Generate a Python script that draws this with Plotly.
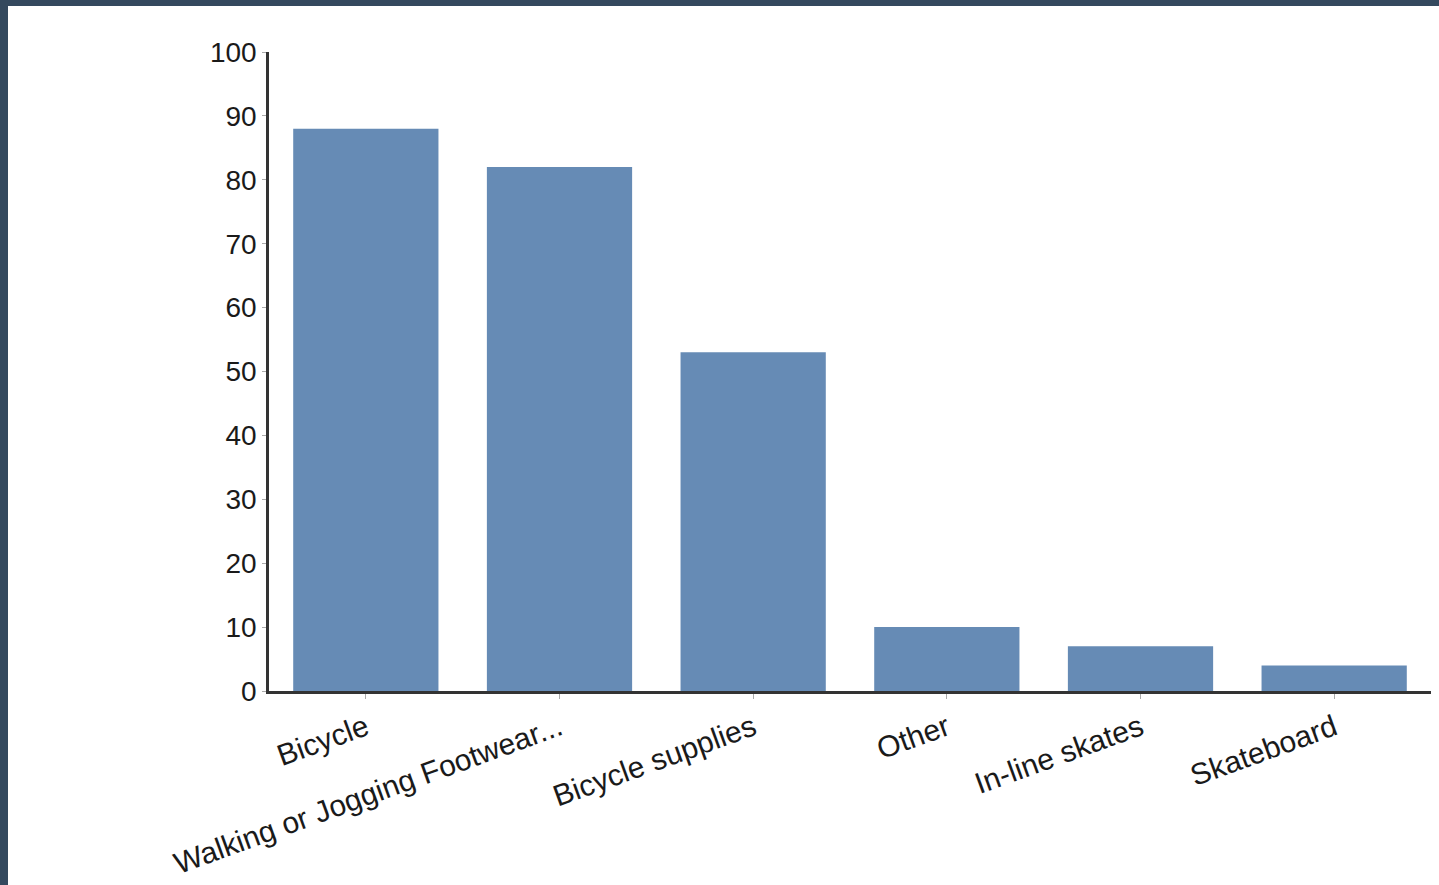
import plotly.graph_objects as go

categories = ["Bicycle", "Walking or Jogging Footwear...", "Bicycle supplies", "Other", "In-line skates", "Skateboard"]
values = [88, 82, 53, 10, 7, 4]
y_ticks = [0, 10, 20, 30, 40, 50, 60, 70, 80, 90, 100]

W, H = 1439, 885
ml, mr, mt, mb = 269, 8, 52, 194
pw, ph = W - ml - mr, H - mt - mb

fig = go.Figure(go.Bar(x=categories, y=values, marker=dict(color="#668bb5", line=dict(width=0)),
                       hoverinfo="x+y"))

# dark frame around white canvas
fig.add_shape(type="rect", xref="paper", yref="paper", layer="below",
              x0=-(ml - 8) / pw, x1=1 + (mr + 5) / pw,
              y0=-(mb + 5) / ph, y1=1 + (mt - 6) / ph,
              fillcolor="white", line=dict(width=0))

fig.update_layout(
    width=W, height=H,
    margin=dict(l=ml, r=mr, t=mt, b=mb, pad=0),
    paper_bgcolor="#34495e", plot_bgcolor="rgba(0,0,0,0)",
    font=dict(family="Liberation Sans, Arial, sans-serif", size=28, color="#1a1a1a"),
    bargap=0.25, showlegend=False,
    xaxis=dict(showline=True, linecolor="#333333", linewidth=2.5, ticks="outside", ticklen=5,
               tickcolor="#aaaaaa", tickangle=-20, showgrid=False, zeroline=False,
               tickfont=dict(size=30), automargin=False),
    yaxis=dict(range=[0, 100], tickvals=y_ticks, showline=True, linecolor="#333333", linewidth=2.5,
               ticks="outside", ticklen=4, tickcolor="#aaaaaa", showgrid=False, zeroline=False,
               automargin=False),
)

fig.write_html("out.html", config={"displayModeBar": False},
               post_script="document.body.style.margin='0';document.body.style.overflow='hidden';")
